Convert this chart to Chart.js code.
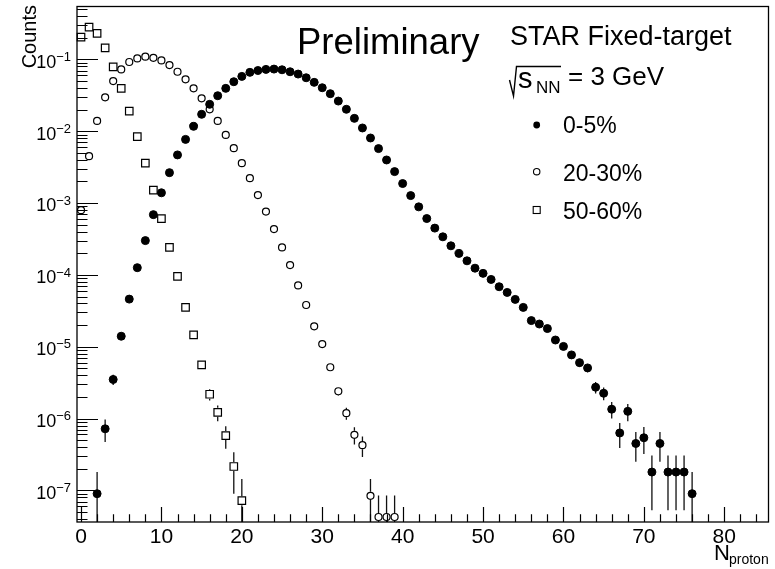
<!DOCTYPE html>
<html>
<head>
<meta charset="utf-8">
<script src="https://cdn.jsdelivr.net/npm/chart.js@4.4.1/dist/chart.umd.min.js"></script>
<style>
  html, body { margin: 0; padding: 0; background: #fff; }
  #wrap { width: 775px; height: 569px; }
</style>
</head>
<body>
<div id="wrap"><canvas id="myChart" width="775" height="569"></canvas></div>
<script>
// 0-5% centrality
const binsCentral = [2,3,4,5,6,7,8,9,10,11,12,13,14,15,16,17,18,19,20,21,22,23,24,25,26,27,28,29,30,31,32,33,34,35,36,37,38,39,
  40,41,42,43,44,45,46,47,48,49,50,51,52,53,54,55,56,57,58,59,60,61,62,63,64,65,66,67,68,69,70,71,72,73,74,75,76];
const countsCentral = [9e-8,7.2e-7,3.5e-6,1.4e-5,4.6e-5,1.26e-4,3.0e-4,6.9e-4,1.39e-3,2.65e-3,4.68e-3,7.7e-3,1.17e-2,1.72e-2,
  2.37e-2,3.12e-2,3.95e-2,4.89e-2,5.8e-2,6.6e-2,7.0e-2,7.26e-2,7.33e-2,7.17e-2,6.73e-2,6.25e-2,5.55e-2,4.79e-2,4.03e-2,
  3.33e-2,2.63e-2,2.02e-2,1.51e-2,1.11e-2,8.05e-3,5.73e-3,3.98e-3,2.74e-3,1.87e-3,1.27e-3,8.85e-4,6.09e-4,4.48e-4,3.39e-4,
  2.54e-4,1.99e-4,1.57e-4,1.24e-4,1.05e-4,8.64e-5,6.84e-5,5.7e-5,4.56e-5,3.53e-5,2.31e-5,2.07e-5,1.79e-5,1.24e-5,1.01e-5,
  7.69e-6,6.0e-6,5.07e-6,2.73e-6,2.25e-6,1.35e-6,6.3e-7,1.26e-6,4.5e-7,5.4e-7,1.8e-7,4.5e-7,1.8e-7,1.8e-7,1.8e-7,9e-8];
const errBinsCentral = [2,3,4,62,63,64,65,66,67,68,69,70,71,72,73,74,75,76];
const errCentral = [9e-8,2.5e-7,5.6e-7,7.4e-7,6.7e-7,4.9e-7,4.5e-7,3.5e-7,2.4e-7,3.4e-7,2.0e-7,2.2e-7,1.27e-7,2.0e-7,1.27e-7,1.27e-7,1.27e-7,9e-8];

// 20-30% centrality
const binsMid = [0,1,2,3,4,5,6,7,8,9,10,11,12,13,14,15,16,17,18,19,20,21,22,23,24,25,26,27,28,29,30,31,32,33,34,35,36,37,38,39];
const countsMid = [7.96e-4,4.5e-3,1.39e-2,2.96e-2,4.99e-2,7.26e-2,9.2e-2,0.103,0.109,0.105,0.0968,0.0833,0.0673,0.0528,
  0.0395,0.0287,0.0202,0.0139,8.87e-3,5.8e-3,3.59e-3,2.22e-3,1.29e-3,7.62e-4,4.34e-4,2.41e-4,1.37e-4,7.13e-5,3.81e-5,
  1.92e-5,1.09e-5,5.18e-6,2.4e-6,1.19e-6,5.94e-7,4.26e-7,8.4e-8,4.26e-8,4.26e-8,4.26e-8];
const errBinsMid = [32,33,34,35,36,37,38,39];
const errMid = [3.2e-7,2.25e-7,1.6e-7,1.35e-7,6e-8,4.26e-8,4.26e-8,4.26e-8];

// 50-60% centrality
const binsPeriph = [0,1,2,3,4,5,6,7,8,9,10,11,12,13,14,15,16,17,18,19,20];
const countsPeriph = [0.204,0.281,0.23,0.145,0.0789,0.0395,0.0191,8.4e-3,3.59e-3,1.51e-3,6.09e-4,2.41e-4,9.53e-5,
  3.53e-5,1.46e-5,5.58e-6,2.18e-6,1.22e-6,5.8e-7,2.15e-7,7.2e-8];
const errBinsPeriph = [15,16,17,18,19,20];
const errPeriph = [6.3e-7,4e-7,3e-7,2e-7,1.25e-7,7.2e-8];

const legendLabels = ['0-5%', '20-30%', '50-60%'];
const xTickValues = [0,10,20,30,40,50,60,70,80];
const xTickLabels = ['0','10','20','30','40','50','60','70','80'];
const yTickValues = [1e-7,1e-6,1e-5,1e-4,1e-3,1e-2,1e-1];
const yTickExponents = ['\u22127','\u22126','\u22125','\u22124','\u22123','\u22122','\u22121'];

const FONT = '"Liberation Sans", Arial, Helvetica, sans-serif';

function toPoints(bins, vals) {
  return bins.map((b, i) => ({ x: b, y: vals[i] }));
}

const series = [
  { bins: binsCentral, vals: countsCentral, errBins: errBinsCentral, errs: errCentral, gap: 0 },
  { bins: binsMid, vals: countsMid, errBins: errBinsMid, errs: errMid, gap: 4 },
  { bins: binsPeriph, vals: countsPeriph, errBins: errBinsPeriph, errs: errPeriph, gap: 4.5 }
];

const rootStyle = {
  id: 'rootStyle',
  beforeDatasetsDraw(chart) {
    const ctx = chart.ctx, a = chart.chartArea;
    const xs = chart.scales.x, ys = chart.scales.y;
    ctx.save();
    ctx.strokeStyle = '#111';
    ctx.lineWidth = 1.3;
    series.forEach(s => {
      s.errBins.forEach((b, i) => {
        const v = s.vals[s.bins.indexOf(b)];
        const e = s.errs[i];
        const px = xs.getPixelForValue(b);
        const py = ys.getPixelForValue(v);
        const top = Math.max(a.top, ys.getPixelForValue(v + e));
        let bot = v - e > 0 ? ys.getPixelForValue(v - e) : a.bottom;
        bot = Math.min(bot, a.bottom);
        ctx.beginPath();
        if (top < py - s.gap) { ctx.moveTo(px, top); ctx.lineTo(px, py - s.gap); }
        if (bot > py + s.gap) { ctx.moveTo(px, py + s.gap); ctx.lineTo(px, bot); }
        ctx.stroke();
      });
    });
    ctx.restore();
  },
  afterDraw(chart) {
    const ctx = chart.ctx, a = chart.chartArea;
    const xs = chart.scales.x, ys = chart.scales.y;
    ctx.save();
    ctx.strokeStyle = '#000';
    ctx.fillStyle = '#000';

    // frame
    ctx.lineWidth = 1.3;
    ctx.strokeRect(a.left, a.top, a.right - a.left, a.bottom - a.top);

    // x ticks (inside)
    ctx.lineWidth = 1.2;
    ctx.beginPath();
    for (let t = 0; t <= 84; t += 2) {
      const px = Math.round(xs.getPixelForValue(t)) + 0.5;
      const len = t % 10 === 0 ? 15 : 7.7;
      ctx.moveTo(px, a.bottom);
      ctx.lineTo(px, a.bottom - len);
    }
    // y ticks (inside)
    for (let ex = -8; ex <= 0; ex++) {
      for (let m = 1; m <= 9; m++) {
        const v = m * Math.pow(10, ex);
        if (v < ys.min || v > ys.max) continue;
        const py = Math.round(ys.getPixelForValue(v)) + 0.5;
        const len = m === 1 ? 21 : 10.5;
        ctx.moveTo(a.left, py);
        ctx.lineTo(a.left + len, py);
      }
    }
    ctx.stroke();

    // x tick labels
    ctx.font = '21px ' + FONT;
    ctx.textAlign = 'center';
    ctx.textBaseline = 'alphabetic';
    xTickValues.forEach((t, i) => {
      ctx.fillText(xTickLabels[i], xs.getPixelForValue(t), 543);
    });

    // y tick labels 10^n
    ctx.textAlign = 'left';
    yTickValues.forEach((v, i) => {
      const py = ys.getPixelForValue(v);
      ctx.font = '13px ' + FONT;
      const w2 = ctx.measureText(yTickExponents[i]).width;
      ctx.font = '18px ' + FONT;
      const w1 = ctx.measureText('10').width;
      const right = 71;
      ctx.fillText('10', right - w2 - w1, py + 8.4);
      ctx.font = '13px ' + FONT;
      ctx.fillText(yTickExponents[i], right - w2, py + 1.7);
    });

    // y title
    ctx.save();
    ctx.translate(36, 5);
    ctx.rotate(-Math.PI / 2);
    ctx.font = '20px ' + FONT;
    ctx.textAlign = 'right';
    ctx.fillText('Counts', 0, 0);
    ctx.restore();

    // x title
    ctx.textAlign = 'left';
    ctx.font = '22px ' + FONT;
    ctx.fillText('N', 714, 560);
    ctx.font = '14px ' + FONT;
    ctx.fillText('proton', 729, 563.5);

    // annotations
    ctx.font = '36.5px ' + FONT;
    ctx.fillText('Preliminary', 297, 54);
    ctx.font = '27px ' + FONT;
    ctx.fillText('STAR Fixed-target', 510, 45);

    // sqrt(s_NN) = 3 GeV
    ctx.lineWidth = 1.4;
    ctx.beginPath();
    ctx.moveTo(509.5, 80);
    ctx.lineTo(513.5, 96);
    ctx.lineTo(516.5, 66.5);
    ctx.lineTo(561, 66.5);
    ctx.stroke();
    ctx.font = '29px ' + FONT;
    ctx.fillText('s', 518, 88);
    ctx.font = '17px ' + FONT;
    ctx.fillText('NN', 536, 93);
    ctx.font = '26px ' + FONT;
    ctx.fillText('= 3 GeV', 568, 85);

    // legend
    const lx = 536.7;
    const ly = [125, 171.7, 210];
    const tb = [133, 181, 218.5];
    ctx.lineWidth = 1.1;
    ctx.beginPath();
    ctx.arc(lx, ly[0], 3.4, 0, Math.PI * 2);
    ctx.fill();
    ctx.beginPath();
    ctx.arc(lx, ly[1], 3.2, 0, Math.PI * 2);
    ctx.stroke();
    ctx.strokeRect(lx - 3.5, ly[2] - 3.5, 7, 7);
    ctx.font = '23px ' + FONT;
    legendLabels.forEach((l, i) => ctx.fillText(l, 563, tb[i]));

    ctx.restore();
  }
};

const config = {
  type: 'scatter',
  data: {
    datasets: [
      {
        label: legendLabels[0],
        data: toPoints(binsCentral, countsCentral),
        pointStyle: 'circle',
        pointRadius: 4,
        pointBorderWidth: 1,
        backgroundColor: '#000',
        borderColor: '#000',
        clip: false
      },
      {
        label: legendLabels[1],
        data: toPoints(binsMid, countsMid),
        pointStyle: 'circle',
        pointRadius: 3.5,
        pointBorderWidth: 1.2,
        backgroundColor: 'rgba(0,0,0,0)',
        borderColor: '#000',
        clip: false
      },
      {
        label: legendLabels[2],
        data: toPoints(binsPeriph, countsPeriph),
        pointStyle: 'rect',
        pointRadius: 5.3,
        pointBorderWidth: 1.2,
        backgroundColor: 'rgba(0,0,0,0)',
        borderColor: '#000',
        clip: false
      }
    ]
  },
  options: {
    responsive: false,
    animation: false,
    layout: { padding: { top: 5, right: 6, left: 0, bottom: 0 } },
    plugins: { legend: { display: false }, tooltip: { enabled: false } },
    scales: {
      x: {
        type: 'linear',
        min: -0.5,
        max: 85.5,
        grid: { display: false },
        border: { display: false },
        ticks: { display: false },
        afterFit: s => { s.height = 47; }
      },
      y: {
        type: 'logarithmic',
        min: 3.63e-8,
        max: 0.545,
        grid: { display: false },
        border: { display: false },
        ticks: { display: false },
        afterFit: s => { s.width = 77; }
      }
    }
  },
  plugins: [rootStyle]
};

const myChart = new Chart(document.getElementById('myChart'), config);
</script>
</body>
</html>
